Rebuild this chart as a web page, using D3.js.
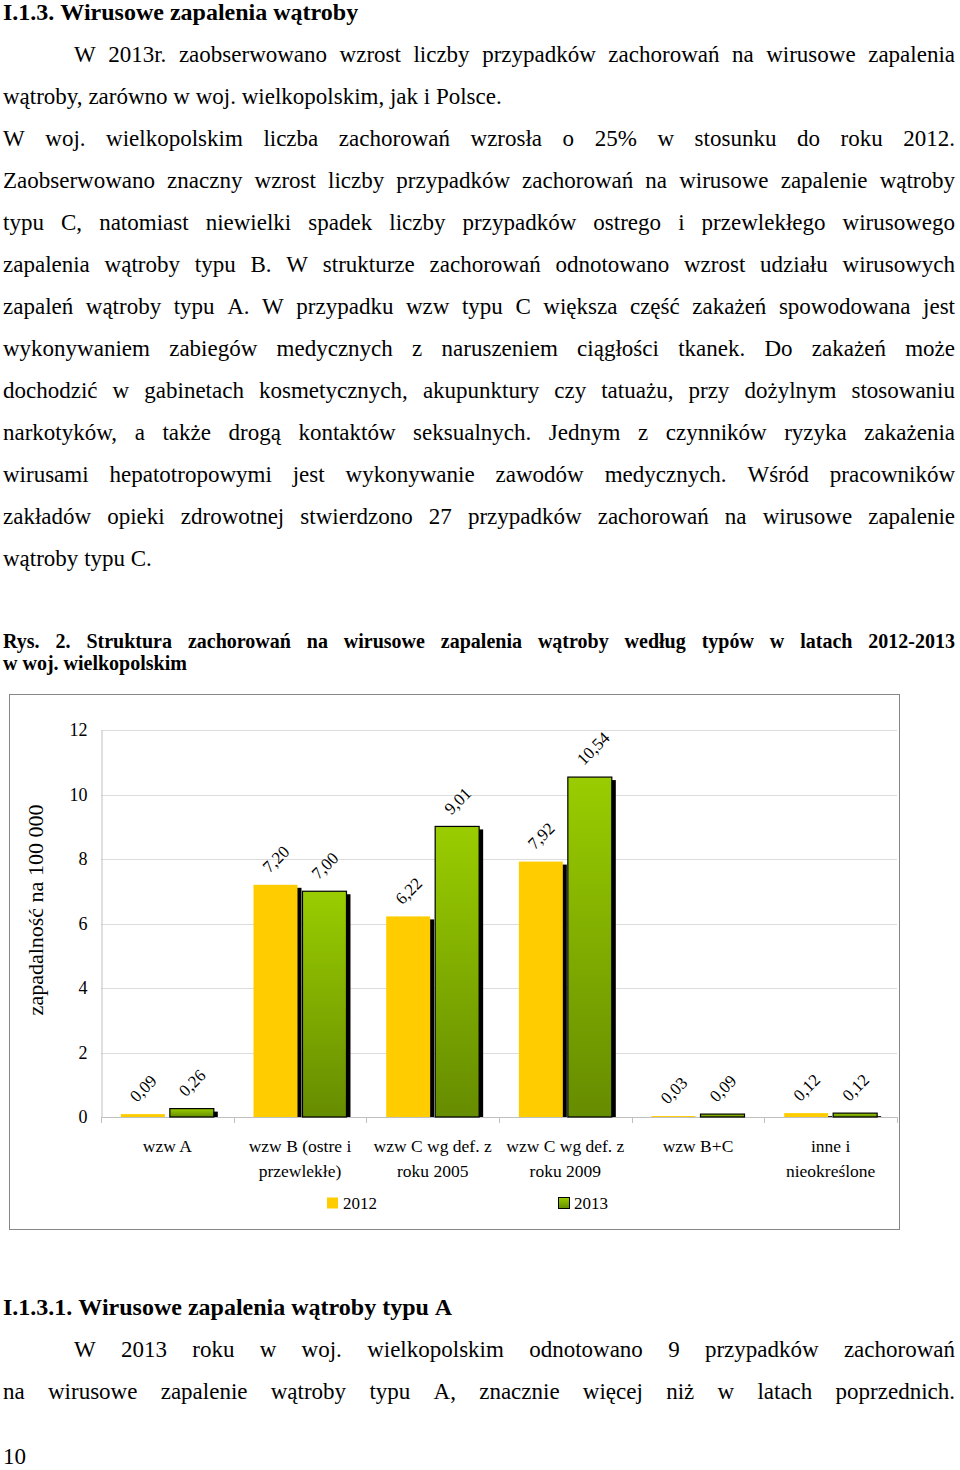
<!DOCTYPE html>
<html><head><meta charset="utf-8">
<script src="https://cdn.jsdelivr.net/npm/d3@7"></script>
<style>body{margin:0;background:#fff} svg{display:block}</style>
</head><body>
<svg id="page" width="960" height="1470"></svg>
<script>
// ---- chart data ----
const categories = [["wzw A"],["wzw B (ostre i","przewlekłe)"],["wzw C wg def. z","roku 2005"],["wzw C wg def. z","roku 2009"],["wzw B+C"],["inne i","nieokreślone"]];
const seriesNames = ["2012","2013"];
const values2012 = [0.09,7.20,6.22,7.92,0.03,0.12];
const values2013 = [0.26,7.00,9.01,10.54,0.09,0.12];
const yTicks = [0,2,4,6,8,10,12];
const yTitle = "zapadalność na 100 000";

// ---- page text ----
const heading1 = "I.1.3. Wirusowe zapalenia wątroby";
const para1 = ["W 2013r. zaobserwowano wzrost liczby przypadków zachorowań na wirusowe zapalenia",
  "wątroby, zarówno w woj. wielkopolskim, jak i Polsce."];
const para2 = ["W woj. wielkopolskim liczba zachorowań wzrosła o 25% w stosunku do roku 2012.",
  "Zaobserwowano znaczny wzrost liczby przypadków zachorowań na wirusowe zapalenie wątroby",
  "typu C, natomiast niewielki spadek liczby przypadków ostrego i przewlekłego wirusowego",
  "zapalenia wątroby typu B. W strukturze zachorowań odnotowano wzrost udziału wirusowych",
  "zapaleń wątroby typu A. W przypadku wzw typu C większa część zakażeń spowodowana jest",
  "wykonywaniem zabiegów medycznych z naruszeniem ciągłości tkanek. Do zakażeń może",
  "dochodzić w gabinetach kosmetycznych, akupunktury czy tatuażu, przy dożylnym stosowaniu",
  "narkotyków, a także drogą kontaktów seksualnych. Jednym z czynników ryzyka zakażenia",
  "wirusami hepatotropowymi jest wykonywanie zawodów medycznych. Wśród pracowników",
  "zakładów opieki zdrowotnej stwierdzono 27 przypadków zachorowań na wirusowe zapalenie",
  "wątroby typu C."];
const caption = ["Rys. 2. Struktura zachorowań na wirusowe zapalenia wątroby według typów w latach 2012-2013",
  "w woj. wielkopolskim"];
const heading2 = "I.1.3.1. Wirusowe zapalenia wątroby typu A";
const para3 = ["W 2013 roku w woj. wielkopolskim odnotowano 9 przypadków zachorowań",
  "na wirusowe zapalenie wątroby typu A, znacznie więcej niż w latach poprzednich."];
const pageNumber = "10";

const SERIF = "'Liberation Serif','Times New Roman',Times,serif";
const svg = d3.select("#page");

function drawLine(text, x0, x1, y, size, weight, justify){
  const words = text.split(' ');
  const g = svg.append('g');
  const nodes = words.map(w => g.append('text').attr('y', y)
    .attr('font-size', size).attr('font-weight', weight)
    .attr('font-family', SERIF).attr('fill','#000').text(w));
  const widths = nodes.map(n => n.node().getComputedTextLength());
  const total = d3.sum(widths);
  const gap = (justify && words.length > 1) ? (x1 - x0 - total) / (words.length - 1) : size * 0.25;
  let x = x0;
  nodes.forEach((n, i) => { n.attr('x', x); x += widths[i] + gap; });
}

const L = 3, R = 955, IND = 74, LH = 42, BS = 23;
drawLine(heading1, L, R, 20, 24, 'bold', false);
para1.forEach((t, i) => drawLine(t, i === 0 ? IND : L, R, 62 + i * LH, BS, 'normal', i < para1.length - 1));
para2.forEach((t, i) => drawLine(t, L, R, 146 + i * LH, BS, 'normal', i < para2.length - 1));
caption.forEach((t, i) => drawLine(t, L, R, 648 + i * 22, 20, 'bold', i < caption.length - 1));
drawLine(heading2, L, R, 1315, 24, 'bold', false);
para3.forEach((t, i) => drawLine(t, i === 0 ? IND : L, R, 1357 + i * LH, BS, 'normal', true));
drawLine(pageNumber, L, R, 1464, BS, 'normal', false);

// ---- chart ----
svg.append('rect').attr('x', 9.5).attr('y', 694.5).attr('width', 890).attr('height', 535)
  .attr('fill', 'none').attr('stroke', '#868686').attr('stroke-width', 1);

const plot = {left: 101, right: 897, top: 730, bottom: 1117};
const x0 = d3.scaleBand().domain(d3.range(categories.length)).range([plot.left, plot.right]).padding(0);
const inner = 19.85;
const x1 = d3.scaleBand().domain(seriesNames).range([inner, x0.bandwidth() - inner]).paddingInner(5/49);
const y = d3.scaleLinear().domain([0, 12]).range([plot.bottom, plot.top]);

const defs = svg.append('defs');
const grad = defs.append('linearGradient').attr('id', 'gGreen').attr('x1', 0).attr('y1', 0).attr('x2', 0).attr('y2', 1);
grad.append('stop').attr('offset', '0%').attr('stop-color', '#9acd00');
grad.append('stop').attr('offset', '100%').attr('stop-color', '#668c00');

const chart = svg.append('g');
// gridlines
chart.selectAll('line.grid').data(yTicks.filter(d => d > 0)).join('line')
  .attr('x1', plot.left).attr('x2', plot.right)
  .attr('y1', d => Math.round(y(d)) + 0.5).attr('y2', d => Math.round(y(d)) + 0.5)
  .attr('stroke', '#dcdcdc').attr('stroke-width', 1);

// y axis
const yAxis = d3.axisLeft(y).tickValues(yTicks).tickSize(0).tickPadding(14).tickFormat(d3.format('d'));
const yg = chart.append('g').attr('transform', `translate(${plot.left + 0.5},0)`).call(yAxis);
yg.select('.domain').attr('stroke', '#c0c0c0');
yg.selectAll('text').attr('font-family', SERIF).attr('font-size', 18).attr('fill', '#000');

// x axis
const xAxisLine = chart.append('g');
xAxisLine.append('line').attr('x1', plot.left).attr('x2', plot.right)
  .attr('y1', plot.bottom + 0.5).attr('y2', plot.bottom + 0.5).attr('stroke', '#c0c0c0');
const boundaries = d3.range(categories.length + 1).map(i => i < categories.length ? x0(i) : x0(i - 1) + x0.bandwidth());
xAxisLine.selectAll('line.tk').data(boundaries).join('line')
  .attr('x1', d => Math.round(d) + 0.5).attr('x2', d => Math.round(d) + 0.5)
  .attr('y1', plot.bottom).attr('y2', plot.bottom + 6).attr('stroke', '#c0c0c0');

// category labels
categories.forEach((lines, i) => {
  lines.forEach((t, j) => {
    chart.append('text').attr('x', x0(i) + x0.bandwidth() / 2).attr('y', 1152 + j * 25)
      .attr('text-anchor', 'middle').attr('font-family', SERIF).attr('font-size', 17.5)
      .attr('fill', '#000').text(t);
  });
});

// bars
const data = [];
categories.forEach((c, i) => {
  data.push({i, s: '2012', v: values2012[i]});
  data.push({i, s: '2013', v: values2013[i]});
});
const bx = d => x0(d.i) + x1(d.s);
const shadows = chart.append('g');
shadows.selectAll('rect').data(data).join('rect')
  .attr('x', d => bx(d) + 4).attr('y', d => y(d.v) + 3)
  .attr('width', x1.bandwidth()).attr('height', d => Math.max(0, plot.bottom - y(d.v) - 3))
  .attr('fill', '#000');
chart.append('g').selectAll('rect').data(data).join('rect')
  .attr('x', bx).attr('y', d => y(d.v))
  .attr('width', x1.bandwidth()).attr('height', d => plot.bottom - y(d.v))
  .attr('fill', d => d.s === '2012' ? '#ffcc00' : 'url(#gGreen)')
  .attr('stroke', d => d.s === '2012' ? 'none' : '#000')
  .attr('stroke-width', 1.2);

// value labels
const fmt = v => d3.format('.2f')(v).replace('.', ',');
chart.append('g').selectAll('text').data(data).join('text')
  .attr('transform', d => `translate(${bx(d) + x1.bandwidth() / 2 - 6},${y(d.v) - 11}) rotate(-45)`)
  .attr('font-family', SERIF).attr('font-size', 17).attr('fill', '#000')
  .text(d => fmt(d.v));

// y title
chart.append('text').attr('transform', `translate(43,910) rotate(-90)`)
  .attr('text-anchor', 'middle').attr('font-family', SERIF).attr('font-size', 22)
  .attr('fill', '#000').text(yTitle);

// legend
const legendItems = [{s: '2012', x: 327}, {s: '2013', x: 558}];
legendItems.forEach(it => {
  chart.append('rect').attr('x', it.x + (it.s === '2013' ? 0.5 : 0)).attr('y', 1197.5)
    .attr('width', 11).attr('height', 11)
    .attr('fill', it.s === '2012' ? '#ffcc00' : 'url(#gGreen)')
    .attr('stroke', it.s === '2012' ? 'none' : '#000');
  chart.append('text').attr('x', it.x + 16).attr('y', 1209)
    .attr('font-family', SERIF).attr('font-size', 17).attr('fill', '#000').text(it.s);
});
</script>
</body></html>
